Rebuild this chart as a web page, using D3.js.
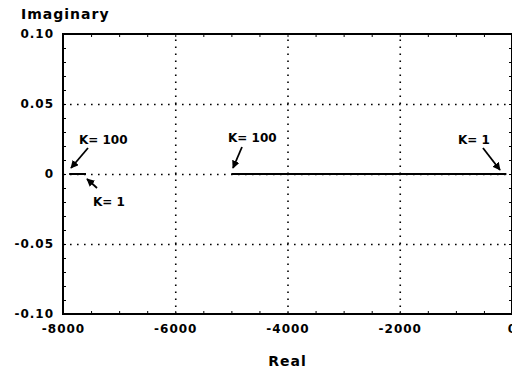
<!DOCTYPE html>
<meta charset="utf-8">
<style>
body { margin: 0; background: #fff; }
svg { background: #fff; }
text { font-family: "DejaVu Sans", sans-serif; font-weight: bold; fill: #000; }
.tick-label { font-size: 12px; letter-spacing: 1px; }
.axis-title { font-size: 14px; letter-spacing: 1px; }
.note { font-size: 12px; }
.grid line { stroke: #000; stroke-width: 1.6px; stroke-dasharray: 1.6,5.4; }
.grid path, .minor path { display: none; }
.minor line { stroke: #000; stroke-width: 1px; }
.frame { fill: none; stroke: #000; stroke-width: 2px; }
.branch { fill: none; stroke: #000; stroke-width: 2px; }
.arrow { stroke: #000; stroke-width: 1.8px; }
</style>
<body>
<div id="chart"></div>
<script src="https://d3js.org/d3.v7.min.js"></script>
<script>
// axis ticks
var realTicks = [-8000, -6000, -4000, -2000, 0];
var realTickLabels = ["-8000", "-6000", "-4000", "-2000", "0"];
var imagTicks = [0.10, 0.05, 0, -0.05, -0.10];
var imagTickLabels = ["0.10", "0.05", "0", "-0.05", "-0.10"];

// root locus branches, gain K = 1 .. 100
var gainK = [1, 100];
var branchAReal = [-7590, -7890];
var branchAImag = [0, 0];
var branchBReal = [-100, -5000];
var branchBImag = [0, 0];

// annotations (data units)
var noteText = ["K= 100", "K= 1", "K= 100", "K= 1"];
var noteReal = [-7715, -7465, -5060, -962];
var noteImag = [0.0214, -0.0229, 0.0229, 0.0214];
var arrowFromReal = [-7555, -7394, -4811, -517];
var arrowFromImag = [0.0186, -0.0100, 0.0193, 0.0186];
var arrowToReal = [-7857, -7572, -4971, -214];
var arrowToImag = [0.0043, -0.0036, 0.0043, 0.0029];

var W = 512, H = 374;
var pLeft = 63, pRight = 512, pTop = 34, pBottom = 314;

var x = d3.scaleLinear().domain([-8000, 0]).range([pLeft, pRight]);
var y = d3.scaleLinear().domain([-0.10, 0.10]).range([pBottom, pTop]);

var svg = d3.select("#chart").append("svg")
    .attr("width", W)
    .attr("height", H);

svg.append("defs").append("marker")
    .attr("id", "head")
    .attr("viewBox", "0 0 10 10")
    .attr("refX", 9)
    .attr("refY", 5)
    .attr("markerUnits", "userSpaceOnUse")
    .attr("markerWidth", 8)
    .attr("markerHeight", 8)
    .attr("orient", "auto")
    .append("path")
    .attr("d", "M0,0L10,5L0,10z")
    .attr("fill", "#000");

// dotted grid
svg.append("g")
    .attr("class", "grid")
    .attr("transform", "translate(0," + pBottom + ")")
    .call(d3.axisBottom(x).tickValues(realTicks.slice(1, -1)).tickSize(-(pBottom - pTop)).tickFormat(""));
svg.append("g")
    .attr("class", "grid")
    .attr("transform", "translate(" + pLeft + ",0)")
    .call(d3.axisLeft(y).tickValues(imagTicks.slice(1, -1)).tickSize(-(pRight - pLeft)).tickFormat(""));

// small inward ticks on all four sides
var minorX = d3.range(-8000, 1, 500);
var minorY = d3.range(-10, 11).map(function(d) { return d / 100; });
svg.append("g").attr("class", "minor")
    .attr("transform", "translate(0," + pBottom + ")")
    .call(d3.axisBottom(x).tickValues(minorX).tickSize(-3).tickFormat(""));
svg.append("g").attr("class", "minor")
    .attr("transform", "translate(0," + pTop + ")")
    .call(d3.axisTop(x).tickValues(minorX).tickSize(-3).tickFormat(""));
svg.append("g").attr("class", "minor")
    .attr("transform", "translate(" + pLeft + ",0)")
    .call(d3.axisLeft(y).tickValues(minorY).tickSize(-3).tickFormat(""));
svg.append("g").attr("class", "minor")
    .attr("transform", "translate(" + pRight + ",0)")
    .call(d3.axisRight(y).tickValues(minorY).tickSize(-3).tickFormat(""));

svg.append("rect")
    .attr("class", "frame")
    .attr("x", pLeft)
    .attr("y", pTop)
    .attr("width", pRight - pLeft)
    .attr("height", pBottom - pTop);

// tick labels
svg.selectAll(".xlab")
    .data(realTicks)
    .enter().append("text")
    .attr("class", "tick-label")
    .attr("x", function(d) { return x(d) + 0.5; })
    .attr("y", pBottom + 19)
    .attr("text-anchor", "middle")
    .text(function(d, i) { return realTickLabels[i]; });

svg.selectAll(".ylab")
    .data(imagTicks)
    .enter().append("text")
    .attr("class", "tick-label")
    .attr("x", pLeft - 9)
    .attr("y", function(d) { return y(d); })
    .attr("dy", "0.36em")
    .attr("text-anchor", "end")
    .text(function(d, i) { return imagTickLabels[i]; });

// axis titles
svg.append("text")
    .attr("class", "axis-title")
    .attr("x", 21)
    .attr("y", 19)
    .text("Imaginary");
svg.append("text")
    .attr("class", "axis-title")
    .attr("x", (pLeft + pRight) / 2)
    .attr("y", 366)
    .attr("text-anchor", "middle")
    .text("Real");

// branches
var line = d3.line()
    .x(function(d) { return x(d[0]); })
    .y(function(d) { return y(d[1]); });
var branches = [d3.zip(branchAReal, branchAImag), d3.zip(branchBReal, branchBImag)];
svg.selectAll(".branch")
    .data(branches)
    .enter().append("path")
    .attr("class", "branch")
    .attr("d", line);

// annotations
var notes = svg.selectAll(".ann")
    .data(noteText)
    .enter().append("g");
notes.append("text")
    .attr("class", "note")
    .attr("x", function(d, i) { return x(noteReal[i]); })
    .attr("y", function(d, i) { return y(noteImag[i]); })
    .text(function(d) { return d; });
notes.append("line")
    .attr("class", "arrow")
    .attr("x1", function(d, i) { return x(arrowFromReal[i]); })
    .attr("y1", function(d, i) { return y(arrowFromImag[i]); })
    .attr("x2", function(d, i) { return x(arrowToReal[i]); })
    .attr("y2", function(d, i) { return y(arrowToImag[i]); })
    .attr("marker-end", "url(#head)");
</script>
</body>
